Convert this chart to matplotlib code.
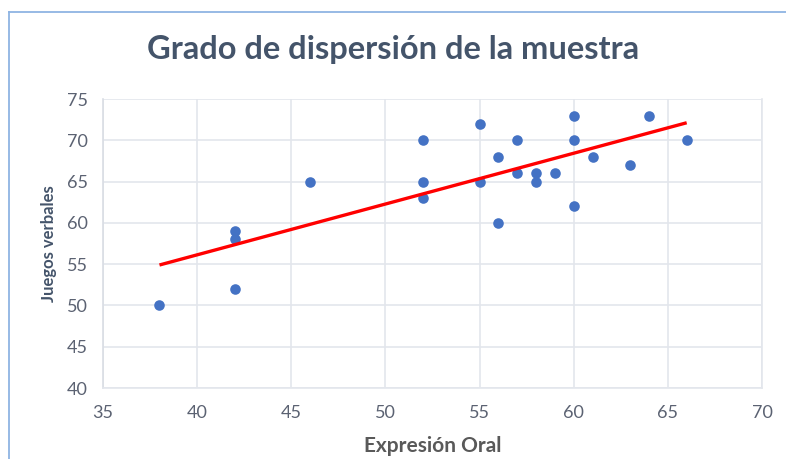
import numpy as np
import matplotlib
matplotlib.use("Agg")
import matplotlib.pyplot as plt
from matplotlib.lines import Line2D

expresion_oral = [38, 42, 42, 42, 46, 52, 52, 52, 55, 55, 56, 56, 57, 57, 58, 58, 59, 60, 60, 60, 61, 63, 64, 66]
juegos_verbales = [50, 59, 58, 52, 65, 70, 65, 63, 72, 65, 68, 60, 70, 66, 66, 65, 66, 73, 70, 62, 68, 67, 73, 70]
x_ticks = [35, 40, 45, 50, 55, 60, 65, 70]
y_ticks = [40, 45, 50, 55, 60, 65, 70, 75]
title = "Grado de dispersión de la muestra"

plt.rcParams['font.family'] = ['Lato', 'DejaVu Sans']

W, H = 786, 459
fig = plt.figure(figsize=(W/100, H/100), dpi=100)
ax = fig.add_axes([103/W, 1-388/H, (762-103)/W, (388-99)/H])

# chart border (light blue, top & left visible)
fig.add_artist(Line2D([9/W, 9/W], [0, 1-12/H], transform=fig.transFigure, color='#8FB4E3', linewidth=1.3))
fig.add_artist(Line2D([9/W, 1], [1-12/H, 1-12/H], transform=fig.transFigure, color='#8FB4E3', linewidth=1.3))

ax.scatter(expresion_oral, juegos_verbales, s=58, color='#4472C4', zorder=3, linewidths=0)

x = np.array(expresion_oral, dtype=float)
y = np.array(juegos_verbales, dtype=float)
m, b = np.polyfit(x, y, 1)
xs = np.array([x.min(), x.max()])
ax.plot(xs, m*xs + b, color='#FF0000', linewidth=2.4, zorder=4, solid_capstyle='butt')

ax.set_xlim(35, 70)
ax.set_ylim(40, 75)
ax.set_xticks(x_ticks)
ax.set_yticks(y_ticks)
ax.grid(True, color='#E3E6EC', linewidth=1.2)
ax.set_axisbelow(True)
for s in ['top']:
    ax.spines[s].set_visible(False)
ax.spines['right'].set_color('#E3E6EC')
ax.spines['right'].set_linewidth(1.2)
ax.spines['left'].set_color('#D9DDE4')
ax.spines['bottom'].set_color('#E3E6EC')
ax.spines['left'].set_linewidth(1.2)
ax.spines['bottom'].set_linewidth(1.2)
ax.tick_params(axis='x', length=0, labelsize=13, colors='#5B6272', pad=12)
ax.tick_params(axis='y', length=0, labelsize=13, colors='#5B6272', pad=11)

ax.set_xlabel("Expresión Oral", fontsize=15, fontweight='bold', color='#595959', labelpad=11)
ax.set_ylabel("Juegos verbales", fontsize=12, fontweight='bold', color='#44546A', labelpad=7)

fig.text(0.5, 1-50/H, title, ha='center', va='center', fontsize=23.5, fontweight='bold', color='#44546A')

fig.savefig("out.png", dpi=100)
